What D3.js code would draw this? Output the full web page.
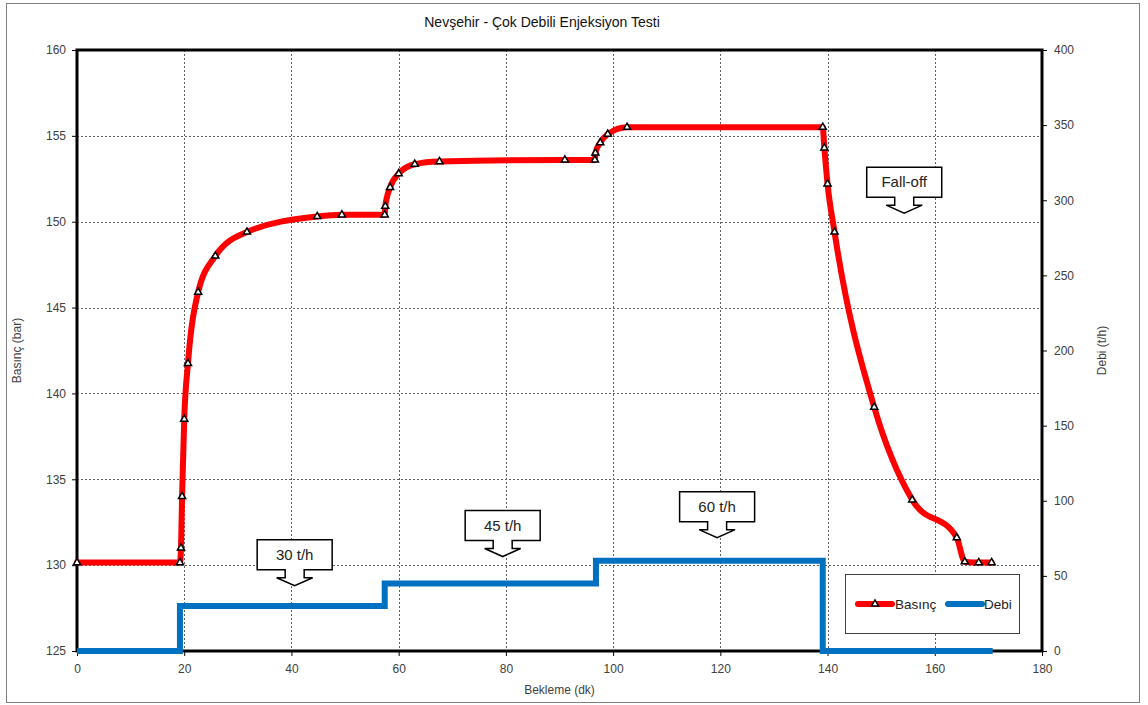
<!DOCTYPE html>
<html>
<head>
<meta charset="utf-8">
<script src="https://cdn.jsdelivr.net/npm/d3@7"></script>
<style>
  html, body { margin: 0; padding: 0; background: #fff; }
  svg { display: block; font-family: "Liberation Sans", Arial, sans-serif; }
</style>
</head>
<body>
<svg id="chart" width="1148" height="705"></svg>
<script>
// Pressure (Basınç, bar) readings over elapsed time (Bekleme, dk)
const basincTime = [0, 19.2, 19.4, 19.6, 20.0, 20.7, 22.6, 25.8, 31.7, 44.8, 49.4, 57.4, 57.5, 58.4, 60.0, 63.0, 67.6, 91.0, 96.6, 96.7, 97.6, 99.0, 102.6, 139.1, 139.4, 140.0, 141.3, 148.7, 155.8, 164.1, 165.6, 168.2, 170.6];
const basincValue = [130.15, 130.15, 131.0, 134.0, 138.5, 141.75, 145.9, 148.0, 149.4, 150.3, 150.4, 150.4, 150.9, 152.0, 152.8, 153.35, 153.5, 153.6, 153.6, 154.0, 154.6, 155.1, 155.5, 155.5, 154.3, 152.2, 149.4, 139.2, 133.8, 131.6, 130.2, 130.15, 130.15];

// Injection rate (Debi, t/h) as a stepped schedule
const debiTime = [0, 19.2, 19.2, 57.4, 57.4, 96.8, 96.8, 139.1, 139.1, 170.8];
const debiValue = [0, 0, 30, 30, 45, 45, 60, 60, 0, 0];

// Axis ticks
const xTicks = [0, 20, 40, 60, 80, 100, 120, 140, 160, 180];
const leftTicks = [125, 130, 135, 140, 145, 150, 155, 160];
const rightTicks = [0, 50, 100, 150, 200, 250, 300, 350, 400];

// Callout annotations: label, tip time (dk), tip pressure (bar)
const calloutText = ["30 t/h", "45 t/h", "60 t/h", "Fall-off"];
const calloutTime = [40.6, 79.4, 119.4, 154.3];
const calloutBar = [128.8, 130.5, 131.6, 150.5];

const svg = d3.select("#chart");
const plot = { left: 77, right: 1042, top: 50, bottom: 651 };

const x = d3.scaleLinear().domain([0, 180]).range([plot.left, plot.right]);
const yL = d3.scaleLinear().domain([125, 160]).range([plot.bottom, plot.top]);
const yR = d3.scaleLinear().domain([0, 400]).range([plot.bottom, plot.top]);

// Outer frame
svg.append("rect")
  .attr("x", 6.5).attr("y", 3.5).attr("width", 1133).attr("height", 699)
  .attr("fill", "#fff").attr("stroke", "#7f7f7f").attr("stroke-width", 1);

// Title
svg.append("text")
  .attr("x", 542).attr("y", 27)
  .attr("text-anchor", "middle")
  .attr("font-size", 14).attr("fill", "#111")
  .text("Nevşehir - Çok Debili Enjeksiyon Testi");

// Grid lines
const grid = svg.append("g").attr("stroke", "#606060").attr("stroke-width", 1).attr("stroke-dasharray", "2,2");
xTicks.filter(t => t > 0 && t < 180).forEach(t => {
  grid.append("line").attr("x1", Math.round(x(t)) + 0.5).attr("x2", Math.round(x(t)) + 0.5)
    .attr("y1", plot.top).attr("y2", plot.bottom);
});
leftTicks.filter(t => t > 125 && t < 160).forEach(t => {
  grid.append("line").attr("y1", Math.round(yL(t)) + 0.5).attr("y2", Math.round(yL(t)) + 0.5)
    .attr("x1", plot.left).attr("x2", plot.right);
});

// Axes
const axisColor = "#404040";
function styleAxis(g) {
  g.select(".domain").remove();
  g.selectAll(".tick line").attr("stroke", "#000");
  g.selectAll(".tick text").attr("fill", axisColor).attr("font-size", 12).attr("font-family", "Liberation Sans, Arial, sans-serif");
}
svg.append("g").attr("transform", `translate(0,${plot.bottom})`)
  .call(d3.axisBottom(x).tickValues(xTicks).tickSize(5).tickPadding(8).tickFormat(d3.format("d")))
  .call(styleAxis);
svg.append("g").attr("transform", `translate(${plot.left},0)`)
  .call(d3.axisLeft(yL).tickValues(leftTicks).tickSize(5).tickPadding(6).tickFormat(d3.format("d")))
  .call(styleAxis);
svg.append("g").attr("transform", `translate(${plot.right},0)`)
  .call(d3.axisRight(yR).tickValues(rightTicks).tickSize(5).tickPadding(7).tickFormat(d3.format("d")))
  .call(styleAxis);

// Axis titles
svg.append("text")
  .attr("transform", `translate(21,${(plot.top + plot.bottom) / 2}) rotate(-90)`)
  .attr("text-anchor", "middle").attr("font-size", 12).attr("fill", axisColor)
  .text("Basınç (bar)");
svg.append("text")
  .attr("transform", `translate(1106,${(plot.top + plot.bottom) / 2}) rotate(-90)`)
  .attr("text-anchor", "middle").attr("font-size", 12).attr("fill", axisColor)
  .text("Debi (t/h)");
svg.append("text")
  .attr("x", (plot.left + plot.right) / 2).attr("y", 694)
  .attr("text-anchor", "middle").attr("font-size", 12).attr("fill", axisColor)
  .text("Bekleme (dk)");

// Plot area border
svg.append("rect")
  .attr("x", plot.left).attr("y", plot.top)
  .attr("width", plot.right - plot.left).attr("height", plot.bottom - plot.top)
  .attr("fill", "none").attr("stroke", "#000").attr("stroke-width", 3);

// Rate series
const debiData = debiTime.map((t, i) => [t, debiValue[i]]);
svg.append("path")
  .datum(debiData)
  .attr("fill", "none").attr("stroke", "#0070C0").attr("stroke-width", 6)
  .attr("stroke-linejoin", "miter")
  .attr("d", d3.line().x(d => x(d[0])).y(d => yR(d[1])));

// Pressure series (smoothed, no overshoot on flat stretches)
const basincData = basincTime.map((t, i) => [t, basincValue[i]]);
svg.append("path")
  .datum(basincData)
  .attr("fill", "none").attr("stroke", "#FF0000").attr("stroke-width", 6)
  .attr("stroke-linejoin", "round").attr("stroke-linecap", "round")
  .attr("d", d3.line().curve(d3.curveMonotoneX).x(d => x(d[0])).y(d => yL(d[1])));

const tri = d3.symbol().type(d3.symbolTriangle).size(22);
svg.append("g").selectAll("path")
  .data(basincData).join("path")
  .attr("transform", d => `translate(${x(d[0])},${yL(d[1])})`)
  .attr("d", tri)
  .attr("fill", "#fff").attr("stroke", "#000").attr("stroke-width", 1.5);

// Callouts: box with a downward arrow pointing at the tip
function calloutPath(tx, ty, w, h) {
  const hl = 8, sl = 8, sw = 19, hw = 36;
  const bottom = ty - hl - sl, top = bottom - h;
  const l = tx - w / 2, r = tx + w / 2;
  return `M${l},${top}H${r}V${bottom}H${tx + sw / 2}V${bottom + sl}H${tx + hw / 2}L${tx},${ty}L${tx - hw / 2},${bottom + sl}H${tx - sw / 2}V${bottom}H${l}Z`;
}
calloutText.forEach((label, i) => {
  const tx = x(calloutTime[i]), ty = yL(calloutBar[i]);
  const h = 30, w = 75;
  const g = svg.append("g");
  g.append("path").attr("d", calloutPath(tx, ty, w, h))
    .attr("fill", "#fff").attr("stroke", "#000").attr("stroke-width", 1.5);
  g.append("text")
    .attr("x", tx).attr("y", ty - 16 - h / 2 + 5)
    .attr("text-anchor", "middle").attr("font-size", 15).attr("fill", "#222")
    .text(label);
});

// Legend
const lg = svg.append("g");
lg.append("rect").attr("x", 845.5).attr("y", 574.5).attr("width", 174).attr("height", 59)
  .attr("fill", "#fff").attr("stroke", "#404040").attr("stroke-width", 1);
lg.append("line").attr("x1", 858).attr("x2", 892).attr("y1", 604).attr("y2", 604)
  .attr("stroke", "#FF0000").attr("stroke-width", 6).attr("stroke-linecap", "round");
lg.append("path").attr("transform", "translate(875,604)").attr("d", tri)
  .attr("fill", "#fff").attr("stroke", "#000").attr("stroke-width", 1.5);
lg.append("text").attr("x", 895).attr("y", 609).attr("font-size", 13.5).attr("fill", "#222").text("Basınç");
lg.append("line").attr("x1", 948).attr("x2", 982).attr("y1", 604).attr("y2", 604)
  .attr("stroke", "#0070C0").attr("stroke-width", 6).attr("stroke-linecap", "round");
lg.append("text").attr("x", 984).attr("y", 609).attr("font-size", 13.5).attr("fill", "#222").text("Debi");
</script>
</body>
</html>
